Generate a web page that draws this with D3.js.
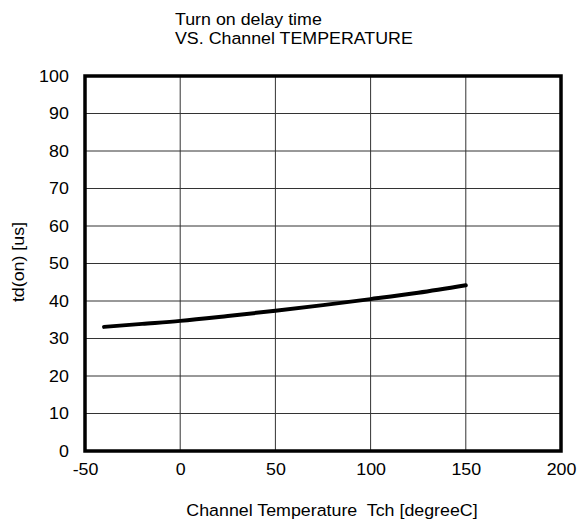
<!DOCTYPE html>
<html><head><meta charset="utf-8">
<script src="https://cdn.jsdelivr.net/npm/d3@7"></script>
<style>body{margin:0;background:#fff}svg{display:block}</style>
</head><body>
<svg id="c" width="587" height="524"></svg>
<script>
const titleLines = ["Turn on delay time", "VS. Channel TEMPERATURE"];
const xLabel = "Channel Temperature  Tch [degreeC]";
const yLabel = "td(on) [us]";
const xTicks = [-50, 0, 50, 100, 150, 200];
const yTicks = [0, 10, 20, 30, 40, 50, 60, 70, 80, 90, 100];
const temps = [-40, -20, 0, 25, 50, 75, 100, 125, 150];
const tdOn = [33.1, 33.9, 34.7, 36.0, 37.4, 38.9, 40.5, 42.2, 44.2];

const svg = d3.select("#c");
const L = 85, R = 561, T = 76, B = 451;
const x = d3.scaleLinear().domain([-50, 200]).range([L, R]);
const y = d3.scaleLinear().domain([0, 100]).range([B, T]);
const font = "'Liberation Sans', Arial, sans-serif";
const fs = 16.5, sx = 1.08;

// grid
svg.append("g").selectAll("line").data(xTicks.slice(1, -1)).join("line")
  .attr("x1", d => x(d)).attr("x2", d => x(d)).attr("y1", T).attr("y2", B)
  .attr("stroke", "#333").attr("stroke-width", 1);
svg.append("g").selectAll("line").data(yTicks.slice(1, -1)).join("line")
  .attr("y1", d => y(d)).attr("y2", d => y(d)).attr("x1", L).attr("x2", R)
  .attr("stroke", "#333").attr("stroke-width", 1);

// axes (labels only)
const xAxis = svg.append("g").attr("transform", `translate(0,${B})`)
  .call(d3.axisBottom(x).tickValues(xTicks).tickFormat(d => String(d)).tickSize(0).tickPadding(12));
const yAxis = svg.append("g").attr("transform", `translate(${L},0)`)
  .call(d3.axisLeft(y).tickValues(yTicks).tickFormat(d => String(d)).tickSize(0).tickPadding(15));
[xAxis, yAxis].forEach(g => {
  g.select(".domain").remove();
  g.selectAll("text").attr("font-family", font).attr("font-size", fs).attr("fill", "#000")
    .attr("transform", `scale(${sx},1)`);
});

// frame
svg.append("rect").attr("x", L).attr("y", T).attr("width", R - L).attr("height", B - T)
  .attr("fill", "none").attr("stroke", "#000").attr("stroke-width", 3.5);

// curve
const line = d3.line().x((d, i) => x(temps[i])).y(d => y(d)).curve(d3.curveMonotoneX);
svg.append("path").datum(tdOn).attr("d", line)
  .attr("fill", "none").attr("stroke", "#000").attr("stroke-width", 4).attr("stroke-linecap", "round");

// title
const t = svg.append("text").attr("transform", `translate(175,24.5) scale(${sx},1)`)
  .attr("font-family", font).attr("font-size", fs).attr("fill", "#000");
titleLines.forEach((s, i) => t.append("tspan").attr("x", 0).attr("dy", i ? 20 : 0).text(s));

svg.append("text").attr("transform", `translate(332,516) scale(${sx},1)`).attr("text-anchor", "middle")
  .attr("font-family", font).attr("font-size", fs).style("white-space", "pre").text(xLabel);
svg.append("text").attr("transform", `translate(24,262) rotate(-90) scale(${sx},1)`).attr("text-anchor", "middle")
  .attr("font-family", font).attr("font-size", fs).text(yLabel);
</script>
</body></html>
